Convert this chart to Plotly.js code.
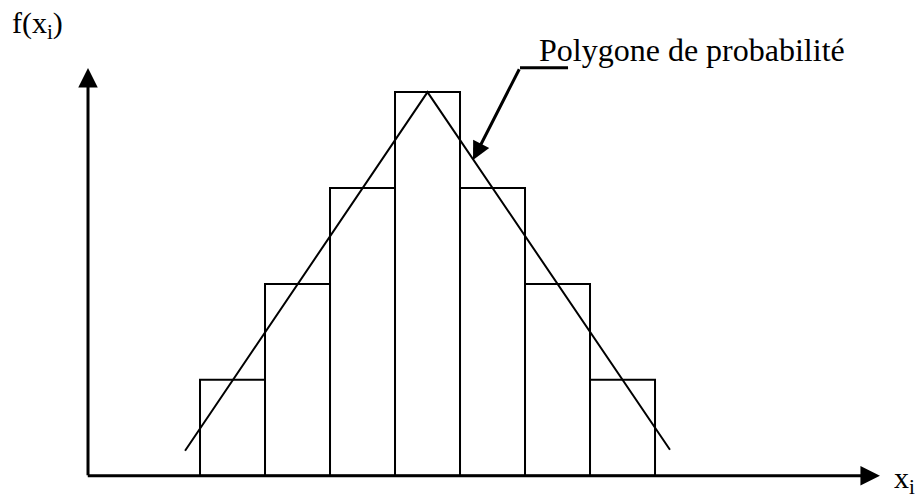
<!DOCTYPE html>
<html>
<head>
<meta charset="utf-8">
<script src="https://cdn.plot.ly/plotly-3.0.1.min.js"></script>
<style>html,body{margin:0;padding:0;background:#fff}#chart{width:921px;height:498px}</style>
</head>
<body>
<div id="chart"></div>
<script>
// Data
const classes = [1, 2, 3, 4, 5, 6, 7];
const freqs = [1, 2, 3, 4, 3, 2, 1];
const polyX = [0.27, 4, 7.73];
const polyY = [0.26, 4, 0.27];
const polygonLabel = "Polygone de probabilité";
const yLabel = "f(x<sub>i</sub>)";
const xLabel = "x<sub>i</sub>";

const FONT = "Liberation Serif";

const traces = [
  {
    type: "bar",
    x: classes,
    y: freqs,
    width: 1,
    marker: { color: "rgba(255,255,255,0)", line: { color: "#000", width: 2 } },
    hoverinfo: "skip",
    showlegend: false
  },
  {
    type: "scatter",
    mode: "lines",
    x: polyX,
    y: polyY,
    line: { color: "#000", width: 2 },
    hoverinfo: "skip",
    showlegend: false
  }
];

const layout = {
  width: 921,
  height: 498,
  margin: { l: 0, r: 0, t: 0, b: 0 },
  paper_bgcolor: "#fff",
  plot_bgcolor: "#fff",
  font: { family: FONT, color: "#000" },
  xaxis: { range: [-2.577, 11.592], visible: false, showgrid: false, zeroline: false, fixedrange: true },
  yaxis: { range: [-0.2325, 4.960], visible: false, showgrid: false, zeroline: false, fixedrange: true },
  bargap: 0,
  shapes: [
    { type: "line", xref: "x", yref: "y", x0: 6.162, y0: 4.254, x1: 5.423, y1: 4.254, line: { color: "#000", width: 3 } }
  ],
  annotations: [
    { xref: "x", yref: "y", axref: "x", ayref: "y", x: 10.96, y: 0, ax: -1.25, ay: 0,
      showarrow: true, arrowhead: 2, arrowsize: 1.3, arrowwidth: 3, arrowcolor: "#000", text: "" },
    { xref: "x", yref: "y", axref: "x", ayref: "y", x: -1.223, y: 4.251, ax: -1.223, ay: -0.01,
      showarrow: true, arrowhead: 2, arrowsize: 1.3, arrowwidth: 3, arrowcolor: "#000", text: "" },
    { xref: "x", yref: "y", axref: "x", ayref: "y", x: 4.7, y: 3.292, ax: 5.423, ay: 4.254,
      showarrow: true, arrowhead: 2, arrowsize: 1.2, arrowwidth: 3, arrowcolor: "#000", text: "" },
    { xref: "paper", yref: "paper", x: 537 / 921, y: 1 - 50 / 498, xanchor: "left", yanchor: "middle",
      showarrow: false, text: polygonLabel, font: { family: FONT, size: 32, color: "#000" } },
    { xref: "paper", yref: "paper", x: 10 / 921, y: 1 - 25 / 498, xanchor: "left", yanchor: "middle",
      showarrow: false, text: yLabel, font: { family: FONT, size: 30, color: "#000" } },
    { xref: "paper", yref: "paper", x: 892 / 921, y: 1 - 480 / 498, xanchor: "left", yanchor: "middle",
      showarrow: false, text: xLabel, font: { family: FONT, size: 30, color: "#000" } }
  ]
};

Plotly.newPlot("chart", traces, layout, { staticPlot: true, displayModeBar: false });
</script>
</body>
</html>
